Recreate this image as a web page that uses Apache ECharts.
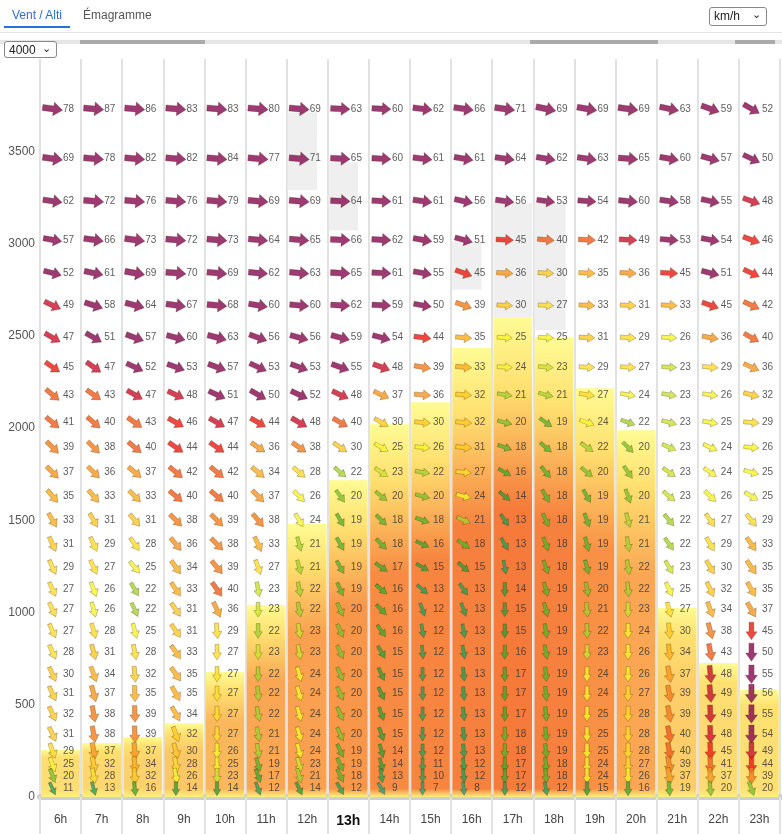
<!DOCTYPE html>
<html>
<head>
<meta charset="utf-8">
<script src="https://cdn.jsdelivr.net/npm/echarts@6/dist/echarts.min.js"></script>
<style>
  html, body { margin: 0; padding: 0; background: #fff; font-family: Arial, "Liberation Sans", sans-serif; }
  #chart { position: absolute; left: 0; top: 0; width: 782px; height: 834px; }
  .tab { position: absolute; top: 8px; font-size: 12px; z-index: 2; }
  .tab.on { left: 12px; color: #2a6fd6; }
  .tab.off { left: 83px; color: #555; }
  .tab-line { position: absolute; left: 4px; top: 26px; width: 66px; height: 2px; background: #2a6fd6; z-index: 2; }
  .head-line { position: absolute; left: 0; top: 32px; width: 782px; height: 1px; background: #e4e4e4; z-index: 2; }
  .scroll { position: absolute; left: 0; top: 40px; width: 782px; height: 4px; background: #e6e6e6; z-index: 2; }
  .scroll span { position: absolute; top: 0; height: 4px; background: #aaa; }
  .sel { position: absolute; z-index: 3; font-size: 12px; line-height: 15px; color: #222; border: 1px solid #888; border-radius: 3px; background: #fff; padding: 1px 4px; box-sizing: border-box; white-space: nowrap; overflow: hidden; }
  .sel i { font-style: normal; position: absolute; right: 5px; top: -1px; font-size: 11px; }
</style>
</head>
<body>
<div class="tab on">Vent / Alti</div>
<div class="tab off">Émagramme</div>
<div class="tab-line"></div>
<div class="head-line"></div>
<div class="scroll"><span style="left:80px;width:125px"></span><span style="left:530px;width:128px"></span><span style="left:735px;width:40px"></span></div>
<div class="sel" style="left:709px;top:7px;width:58px;height:19px">km/h<i>&#8964;</i></div>
<div class="sel" style="left:4px;top:41px;width:53px;height:17px">4000<i>&#8964;</i></div>
<div id="chart"></div>
<script>
// heures et niveaux d'altitude (m)
const hours = ['6h', '7h', '8h', '9h', '10h', '11h', '12h', '13h', '14h', '15h', '16h', '17h', '18h', '19h', '20h', '21h', '22h', '23h'];
const currentHour = '13h';
const levels = [3730, 3460, 3230, 3020, 2840, 2665, 2490, 2330, 2180, 2030, 1895, 1760, 1630, 1500, 1370, 1245, 1125, 1015, 900, 785, 665, 560, 450, 340, 250, 175, 115, 45];

// vitesse du vent (km/h), du haut vers le bas
const spd06 = [78, 69, 62, 57, 52, 49, 47, 45, 43, 41, 39, 37, 35, 33, 31, 29, 27, 27, 27, 28, 30, 31, 32, 31, 29, 25, 20, 11];
const spd07 = [87, 78, 72, 66, 61, 58, 51, 47, 43, 40, 38, 36, 33, 31, 29, 27, 26, 26, 28, 31, 34, 37, 38, 38, 37, 32, 28, 13];
const spd08 = [86, 82, 76, 73, 69, 64, 57, 52, 47, 43, 40, 37, 33, 31, 28, 25, 22, 22, 25, 28, 32, 35, 39, 39, 37, 34, 32, 16];
const spd09 = [83, 82, 76, 72, 70, 67, 60, 53, 48, 46, 44, 42, 40, 38, 36, 34, 33, 31, 31, 33, 35, 35, 34, 32, 30, 28, 26, 14];
const spd10 = [83, 84, 79, 73, 69, 68, 63, 57, 51, 47, 44, 42, 40, 39, 38, 39, 40, 36, 29, 27, 27, 27, 27, 27, 26, 25, 23, 14];
const spd11 = [80, 77, 69, 64, 62, 60, 56, 53, 50, 44, 36, 34, 37, 38, 33, 27, 23, 23, 22, 23, 22, 22, 22, 21, 21, 19, 17, 12];
const spd12 = [69, 71, 69, 65, 63, 60, 56, 53, 52, 48, 38, 28, 26, 24, 21, 21, 22, 22, 23, 23, 24, 24, 24, 24, 24, 23, 21, 14];
const spd13 = [63, 65, 64, 66, 65, 62, 59, 55, 48, 40, 30, 22, 20, 19, 19, 19, 19, 20, 20, 20, 20, 20, 20, 20, 19, 19, 18, 12];
const spd14 = [60, 60, 61, 62, 61, 59, 54, 48, 37, 30, 25, 23, 20, 18, 18, 17, 16, 16, 16, 15, 15, 15, 15, 15, 14, 14, 13, 9];
const spd15 = [62, 61, 61, 59, 55, 50, 44, 39, 36, 30, 26, 22, 20, 18, 16, 15, 13, 12, 12, 12, 12, 12, 12, 12, 12, 11, 10, 7];
const spd16 = [66, 61, 56, 51, 45, 39, 35, 33, 32, 32, 31, 27, 24, 21, 18, 15, 13, 13, 13, 13, 13, 13, 13, 13, 13, 12, 12, 8];
const spd17 = [71, 64, 56, 45, 36, 30, 25, 24, 21, 20, 18, 16, 14, 13, 13, 13, 14, 15, 15, 16, 17, 17, 17, 18, 18, 17, 17, 12];
const spd18 = [69, 62, 53, 40, 30, 27, 25, 23, 21, 19, 18, 18, 18, 18, 18, 18, 19, 19, 19, 19, 19, 19, 19, 19, 19, 18, 18, 12];
const spd19 = [69, 63, 54, 42, 35, 33, 31, 29, 27, 24, 22, 20, 19, 19, 19, 19, 20, 21, 22, 23, 24, 24, 25, 25, 25, 24, 24, 15];
const spd20 = [69, 65, 60, 49, 36, 31, 29, 27, 24, 22, 20, 20, 20, 21, 21, 22, 22, 23, 24, 26, 26, 27, 28, 28, 28, 27, 26, 16];
const spd21 = [63, 60, 58, 53, 45, 33, 26, 23, 23, 23, 23, 23, 23, 22, 22, 23, 25, 27, 30, 34, 37, 39, 39, 40, 40, 39, 37, 19];
const spd22 = [59, 57, 55, 54, 51, 45, 36, 29, 26, 25, 24, 24, 26, 27, 29, 30, 32, 34, 38, 43, 48, 49, 49, 48, 45, 41, 37, 20];
const spd23 = [52, 50, 48, 46, 44, 42, 40, 36, 32, 29, 26, 25, 25, 29, 33, 35, 35, 37, 45, 50, 55, 56, 55, 54, 49, 44, 39, 20];

// direction d'où vient le vent (degrés)
const dir06 = [278, 278, 278, 280, 285, 295, 300, 305, 310, 310, 315, 315, 320, 330, 335, 335, 335, 335, 335, 335, 335, 335, 335, 335, 340, 340, 340, 335];
const dir07 = [275, 275, 275, 278, 282, 288, 300, 305, 305, 310, 315, 315, 320, 330, 335, 335, 340, 345, 345, 345, 340, 345, 350, 350, 350, 350, 350, 345];
const dir08 = [275, 275, 275, 278, 280, 285, 290, 295, 300, 305, 310, 310, 315, 320, 325, 320, 330, 335, 345, 350, 355, 358, 358, 358, 355, 355, 355, 355];
const dir09 = [275, 275, 275, 275, 275, 278, 285, 290, 295, 300, 305, 310, 310, 315, 320, 325, 325, 325, 325, 325, 325, 330, 330, 340, 345, 350, 350, 360];
const dir10 = [275, 275, 275, 275, 275, 275, 285, 290, 295, 300, 305, 310, 310, 315, 315, 320, 325, 335, 355, 360, 360, 360, 360, 360, 360, 360, 360, 360];
const dir11 = [275, 275, 275, 275, 275, 280, 290, 295, 300, 300, 305, 310, 315, 320, 335, 340, 350, 360, 360, 360, 360, 355, 350, 350, 350, 345, 340, 340];
const dir12 = [275, 275, 275, 275, 275, 275, 285, 290, 295, 300, 305, 310, 315, 330, 345, 345, 350, 350, 350, 350, 345, 345, 345, 345, 345, 345, 345, 335];
const dir13 = [273, 273, 273, 273, 273, 273, 285, 290, 295, 300, 305, 310, 325, 330, 330, 330, 335, 335, 335, 335, 335, 335, 335, 335, 335, 335, 335, 330];
const dir14 = [273, 273, 273, 273, 273, 273, 285, 290, 295, 300, 300, 305, 310, 315, 315, 305, 310, 315, 325, 330, 335, 335, 340, 340, 345, 345, 350, 330];
const dir15 = [277, 277, 278, 280, 280, 280, 278, 280, 275, 275, 275, 280, 285, 290, 295, 300, 310, 340, 350, 355, 360, 360, 360, 360, 360, 360, 360, 360];
const dir16 = [278, 280, 282, 285, 290, 290, 275, 275, 275, 275, 275, 275, 285, 295, 305, 310, 325, 340, 350, 350, 355, 355, 355, 355, 355, 355, 355, 355];
const dir17 = [278, 278, 278, 273, 273, 273, 273, 273, 280, 285, 290, 300, 310, 325, 330, 350, 360, 360, 360, 360, 360, 360, 360, 360, 360, 360, 360, 360];
const dir18 = [282, 280, 278, 275, 273, 273, 273, 275, 285, 305, 310, 320, 330, 335, 340, 340, 345, 345, 350, 350, 355, 355, 355, 355, 355, 355, 355, 350];
const dir19 = [280, 278, 275, 273, 273, 273, 273, 273, 280, 290, 305, 310, 330, 340, 345, 345, 350, 355, 358, 360, 360, 360, 360, 360, 360, 360, 360, 360];
const dir20 = [278, 275, 275, 273, 273, 273, 273, 273, 280, 290, 315, 325, 340, 345, 350, 350, 355, 360, 360, 360, 360, 360, 360, 360, 360, 360, 360, 360];
const dir21 = [282, 280, 278, 275, 273, 273, 273, 273, 280, 285, 295, 305, 310, 320, 325, 330, 335, 345, 355, 355, 350, 350, 350, 350, 350, 350, 350, 355];
const dir22 = [290, 285, 282, 280, 285, 290, 280, 275, 278, 280, 295, 305, 315, 325, 330, 330, 335, 340, 345, 350, 355, 355, 358, 358, 358, 358, 355, 355];
const dir23 = [300, 295, 290, 290, 295, 295, 300, 295, 285, 275, 275, 285, 300, 320, 325, 325, 330, 330, 360, 360, 360, 360, 360, 360, 360, 360, 360, 340];

// plafond des thermiques (m) et intensité relative
const blTop = [255, 293, 325, 400, 677, 1040, 1479, 1717, 2021, 2140, 2433, 2600, 2492, 2216, 1988, 1024, 726, 580];
const thermal = [0.1, 0.15, 0.2, 0.3, 0.45, 0.6, 0.65, 0.75, 0.85, 0.9, 0.95, 1, 0.95, 0.8, 0.6, 0.25, 0.12, 0.08];

// nuages : heure, base, sommet (m), couverture
const cloudHour = ['12h', '13h', '16h', '17h', '18h'];
const cloudBase = [3290, 3070, 2750, 2600, 2530];
const cloudTop = [3710, 3440, 3010, 3220, 3220];
const cloudCover = [0.75, 0.75, 0.75, 1, 0.8];

const speeds = [spd06, spd07, spd08, spd09, spd10, spd11, spd12, spd13, spd14, spd15, spd16, spd17, spd18, spd19, spd20, spd21, spd22, spd23];
const dirs = [dir06, dir07, dir08, dir09, dir10, dir11, dir12, dir13, dir14, dir15, dir16, dir17, dir18, dir19, dir20, dir21, dir22, dir23];

// palette des vitesses
const speedSteps = [
    [0, '#22a07e'], [10, '#24a05a'], [14, '#2e9f38'], [16, '#3caa2c'], [18, '#56b42c'],
    [20, '#7cc22c'], [21, '#a2d22e'], [23, '#cbe42e'], [24, '#f6f42a'], [27, '#ffdc28'],
    [30, '#ffc822'], [33, '#fbac1e'], [36, '#f8961e'], [38, '#f47c1c'], [40, '#f05a1a'],
    [44, '#ea1a14'], [47, '#c8102e'], [50, '#850850']
];
function speedColor(s) {
    let c = speedSteps[0][1];
    speedSteps.forEach(st => { if (s >= st[0]) c = st[1]; });
    return c;
}

function mix(a, b, t) {
    const pa = [1, 3, 5].map(k => parseInt(a.substr(k, 2), 16));
    const pb = [1, 3, 5].map(k => parseInt(b.substr(k, 2), 16));
    return 'rgb(' + pa.map((v, k) => Math.round(v + (pb[k] - v) * t)).join(',') + ')';
}

const ARROW = 'path://M5,0 L10,9 L7.2,9 L7.2,20 L2.8,20 L2.8,9 L0,9 Z';

const arrowData = [];
const labelData = [];
hours.forEach((h, i) => {
    levels.forEach((alt, k) => {
        const s = speeds[i][k];
        const c = Math.min(s, 70);
        arrowData.push({
            value: [i, alt],
            symbolSize: [6 + c * 0.11, 12.5 + c * 0.11],
            symbolRotate: 180 - dirs[i][k],
            itemStyle: { color: speedColor(s) }
        });
        labelData.push([i, alt, s]);
    });
});

const thermalData = blTop.map((top, i) => {
    const full = mix('#ffe878', '#f67a3a', thermal[i]);
    const strip = Math.max(0.5, 1 - 45 / top);
    return {
        value: top,
        itemStyle: {
            color: new echarts.graphic.LinearGradient(0, 0, 0, 1, [
                { offset: 0, color: '#fffb94' },
                { offset: 0.15, color: '#ffe070' },
                { offset: 0.4, color: full },
                { offset: strip, color: full },
                { offset: 1, color: '#fff27c' }
            ])
        }
    };
});

const chart = echarts.init(document.getElementById('chart'));
chart.setOption({
    animation: false,
    grid: { left: 40, right: 2, top: 59, bottom: 37 },
    xAxis: {
        type: 'category',
        data: hours,
        axisLine: { lineStyle: { color: '#cfcfcf', width: 6 } },
        axisTick: { show: true, interval: 0, length: 37, lineStyle: { color: '#e2e2e2', width: 2 } },
        splitLine: { show: true, interval: 0, lineStyle: { color: '#e2e2e2', width: 2 } },
        axisLabel: {
            interval: 0, margin: 17, color: '#444', fontSize: 12,
            formatter: v => v === currentHour ? '{b|' + v + '}' : v,
            rich: { b: { fontWeight: 'bold', fontSize: 14, color: '#111' } }
        }
    },
    yAxis: {
        type: 'value', min: 0, max: 4000, interval: 500,
        axisLine: { show: false }, axisTick: { show: false }, splitLine: { show: false },
        axisLabel: { margin: 5, color: '#555', fontSize: 12, showMaxLabel: false, formatter: v => String(v) }
    },
    series: [
        {
            type: 'custom',
            z: 1,
            renderItem: (params, api) => {
                const base = api.coord([api.value(0), api.value(1)]);
                const top = api.coord([api.value(0), api.value(2)]);
                const band = api.size([1, 0])[0];
                return {
                    type: 'rect',
                    shape: { x: base[0] - band / 2 + 1, y: top[1], width: (band - 2) * api.value(3), height: base[1] - top[1] },
                    style: { fill: '#efefef' }
                };
            },
            data: cloudHour.map((h, j) => [hours.indexOf(h), cloudBase[j], cloudTop[j], cloudCover[j]])
        },
        {
            type: 'bar',
            z: 2,
            barWidth: '94%',
            data: thermalData
        },
        {
            type: 'scatter',
            z: 3,
            symbol: 'circle',
            symbolSize: 1,
            itemStyle: { color: 'rgba(0,0,0,0)' },
            label: {
                show: true, position: 'right', distance: 2,
                color: '#333', fontSize: 10, fontFamily: 'Arial',
                formatter: p => p.value[2]
            },
            data: labelData
        },
        {
            type: 'scatter',
            z: 4,
            symbol: ARROW,
            symbolOffset: [-8, 0],
            itemStyle: { borderColor: 'rgba(60,40,0,0.45)', borderWidth: 0.7 },
            data: arrowData
        }
    ]
});
</script>
</body>
</html>
